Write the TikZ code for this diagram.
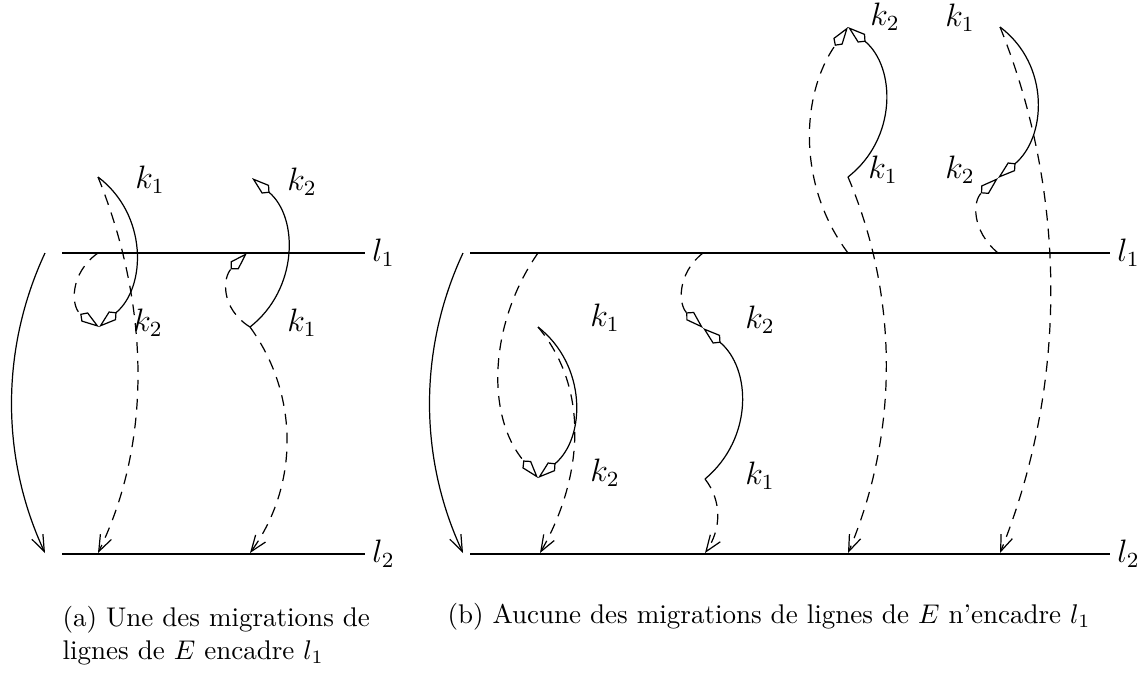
\documentclass[tikz,border=0pt]{standalone}
\usepackage{tikz}
\usetikzlibrary{arrows.meta, positioning}
\tikzset{
  strand/.style={line width=0.45pt},
  hidden/.style={strand, dash pattern=on 4pt off 3pt},
  migr/.style={-{Straight Barb[length=6pt,width=4.5pt]}},
  twist/.style={-{Kite[open,length=8.5pt,width=4.2pt,inset=2pt]}},
  lab/.style={font=\large, inner sep=1pt},
  capt/.style={font=\normalsize, inner sep=0pt, align=left}
}

\begin{document}
\begin{tikzpicture}[x=0.37pt, y=0.37pt]
  \useasboundingbox (0,0) rectangle (1145,-672);

  % (a): the two lines l1, l2
  \coordinate (aL1w) at (62,-253);
  \coordinate (aL1e) at (365,-253);
  \coordinate (aL2w) at (62,-554);
  \coordinate (aL2e) at (365,-554);
  \draw[strand] (aL1w) -- (aL1e) node[lab, right=1.5pt] (al1) {$l_1$};
  \draw[strand] (aL2w) -- (aL2e) node[lab, right=1.5pt] (al2) {$l_2$};
  % (a): migration arrow
  \coordinate (aTop) at (45,-253);
  \coordinate (aBot) at (45,-553);
  \draw[strand, migr] (aTop) to[out=245, in=115, looseness=0.9] (aBot);

  % (a): first strand pair
  \coordinate (aA) at (98,-177);
  \coordinate (aB) at (98,-253);
  \coordinate (aC) at (99,-327);
  \coordinate (aD) at (98,-553);
  \draw[strand, twist] (aA) to[out=-37, in=40, looseness=1.06] (aC);
  \draw[hidden, migr] (aA) to[out=-68, in=64, looseness=0.89] (aD);
  \draw[hidden, twist] (aB) to[out=215, in=145, looseness=1.2] (aC);
  \node[lab] (ak1) at (150,-180) {$k_1$};
  \node[lab] (ak2) at (148,-323) {$k_2$};

  % (a): second strand pair
  \coordinate (aE) at (250,-327);
  \coordinate (aF) at (252,-178);
  \coordinate (aG) at (247,-253);
  \coordinate (aH) at (250,-553);
  \draw[strand, twist] (aE) to[out=38, in=-40, looseness=1.05] (aF);
  \draw[hidden, twist] (aE) to[out=148, in=-135, looseness=1.2] (aG);
  \draw[hidden, migr] (aE) to[out=-54, in=54, looseness=0.95] (aH);
  \node[lab] (ak3) at (302,-182) {$k_2$};
  \node[lab] (ak4) at (302,-323) {$k_1$};

  % (b): the two lines l1, l2
  \coordinate (bL1w) at (470,-253);
  \coordinate (bL1e) at (1110,-253);
  \coordinate (bL2w) at (470,-554);
  \coordinate (bL2e) at (1110,-554);
  \draw[strand] (bL1w) -- (bL1e) node[lab, right=1.5pt] (bl1) {$l_1$};
  \draw[strand] (bL2w) -- (bL2e) node[lab, right=1.5pt] (bl2) {$l_2$};
  % (b): migration arrow
  \coordinate (bTop) at (463,-253);
  \coordinate (bBot) at (463,-553);
  \draw[strand, migr] (bTop) to[out=245, in=115, looseness=0.9] (bBot);

  % (b): pair below l1
  \coordinate (bA) at (538,-253);
  \coordinate (bB) at (538,-478);
  \coordinate (bC) at (538,-327);
  \coordinate (bD) at (540,-553);
  \draw[hidden, twist] (bA) to[out=235, in=130, looseness=0.95] (bB);
  \draw[strand, twist] (bC) to[out=-38, in=40, looseness=1.06] (bB);
  \draw[hidden, migr] (bC) to[out=-50, in=60, looseness=0.94] (bD);
  \node[lab] (bk1) at (605,-318) {$k_1$};
  \node[lab] (bk2) at (605,-473) {$k_2$};

  % (b): crossed kites below l1
  \coordinate (bE) at (703,-253);
  \coordinate (bF) at (703,-328);
  \coordinate (bG) at (705,-479);
  \coordinate (bH) at (705,-553);
  \draw[hidden, twist] (bE) to[out=218, in=137, looseness=1.15] (bF);
  \draw[strand, twist] (bG) to[out=40, in=-40, looseness=1.07] (bF);
  \draw[hidden, migr] (bG) to[out=-52, in=55, looseness=0.98] (bH);
  \node[lab] (bk3) at (760,-320) {$k_2$};
  \node[lab] (bk4) at (760,-476) {$k_1$};

  % (b): pair above l1
  \coordinate (bI) at (848,-253);
  \coordinate (bJ) at (848,-27);
  \coordinate (bK) at (848,-177);
  \coordinate (bM) at (848,-553);
  \draw[hidden, twist] (bI) to[out=127, in=-125, looseness=0.95] (bJ);
  \draw[strand, twist] (bK) to[out=38, in=-40, looseness=1.07] (bJ);
  \draw[hidden, migr] (bK) to[out=-67, in=67, looseness=0.89] (bM);
  \node[lab] (bk5) at (885,-17) {$k_2$};
  \node[lab] (bk6) at (883,-170) {$k_1$};

  % (b): crossed kites above l1
  \coordinate (bN) at (1000,-27);
  \coordinate (bP) at (998,-178);
  \coordinate (bQ) at (998,-253);
  \coordinate (bR) at (1000,-553);
  \draw[strand, twist] (bN) to[out=-37, in=40, looseness=1.07] (bP);
  \draw[hidden, twist] (bQ) to[out=140, in=-138, looseness=1.18] (bP);
  \draw[hidden, migr] (bN) to[out=-68, in=68, looseness=0.88] (bR);
  \node[lab] (bk7) at (960,-18) {$k_1$};
  \node[lab] (bk8) at (960,-170) {$k_2$};

  % captions
  \node[capt, anchor=north west] (capa) at (62,-606) {(a) Une des migrations de\\lignes de $E$ encadre $l_1$};
  \node[capt, anchor=west] (capb) at (447,-617) {(b) Aucune des migrations de lignes de $E$ n'encadre $l_1$};
\end{tikzpicture}
\end{document}
